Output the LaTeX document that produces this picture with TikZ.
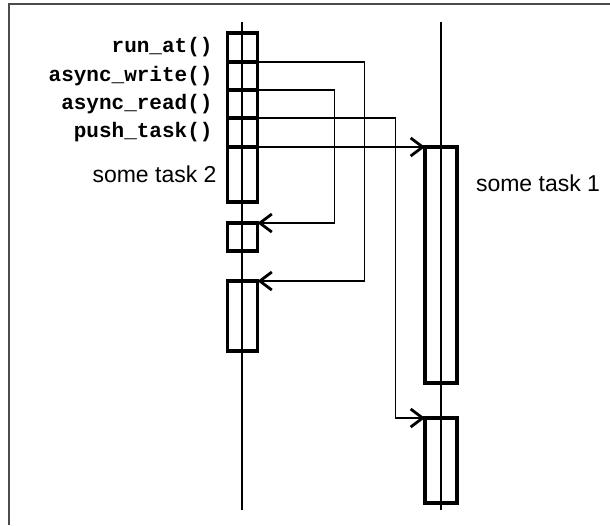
\documentclass[tikz,border=0pt]{standalone}
\usepackage{fontspec}
\setmainfont{Liberation Sans}
\setmonofont{Liberation Mono}
\usepackage{tikz}
\usetikzlibrary{arrows.meta,positioning}

\begin{document}
\begin{tikzpicture}[x=1pt,y=-1pt,>={Straight Barb[length=12pt,width=18pt,line width=2.8pt]},
	act box/.style={draw,line width=3.2pt,inner sep=0,outer sep=0,minimum width=30pt},
	call label/.style={inner sep=0,outer sep=0,anchor=east,font=\fontsize{21}{23}\selectfont\ttfamily\bfseries},
	task label/.style={inner sep=0,outer sep=0,font=\fontsize{23}{26}\selectfont},
	life line/.style={line width=1.2pt},
	call line/.style={line width=1.2pt}]

	\useasboundingbox (0,0) rectangle (610,525);
	\draw[line width=2pt,black!70] (9,525) -- (9,4) -- (610,4);

	% lifelines
	\draw[life line] (242,22) -- (242,510);
	\draw[life line] (441,22) -- (441,510);

	% activations of the first thread
	\foreach \name/\y/\h in {c1/47.5/29, c2/76/28, c3/104/28, c4/132.5/29, c5/174.5/55, w2/237/28, w3/316/70}
		\node[act box,minimum height=\h pt] (\name) at (242.5,\y) {};

	% activations of the second thread
	\node[act box,minimum width=32pt,minimum height=236pt] (t1) at (441,265) {};
	\node[act box,minimum width=32pt,minimum height=85pt] (t2) at (441,460.5) {};

	\node[call label] (run) at ([xshift=-15pt]c1.west) {run\_at()};
	\node[call label] (write) at ([xshift=-15pt]c2.west) {async\_write()};
	\node[call label] (read) at ([xshift=-15pt]c3.west) {async\_read()};
	\node[call label] (push) at ([xshift=-15pt]c4.west) {push\_task()};
	\node[task label,left=11pt of c5] (lab2) {some task 2};
	\node[task label,anchor=west] (lab1) at (476,183) {some task 1};

	\draw[call line,->] (c1.south east) -- ++(107,0) |- (w3.north east);
	\draw[call line,->] (c2.south east) -- ++(77,0) |- (w2.north east);
	\draw[call line,->] (c3.south east) -- ++(138,0) |- (t2.north west);
	\draw[call line,->] (c4.south east) -- (t1.north west);
\end{tikzpicture}
\end{document}
